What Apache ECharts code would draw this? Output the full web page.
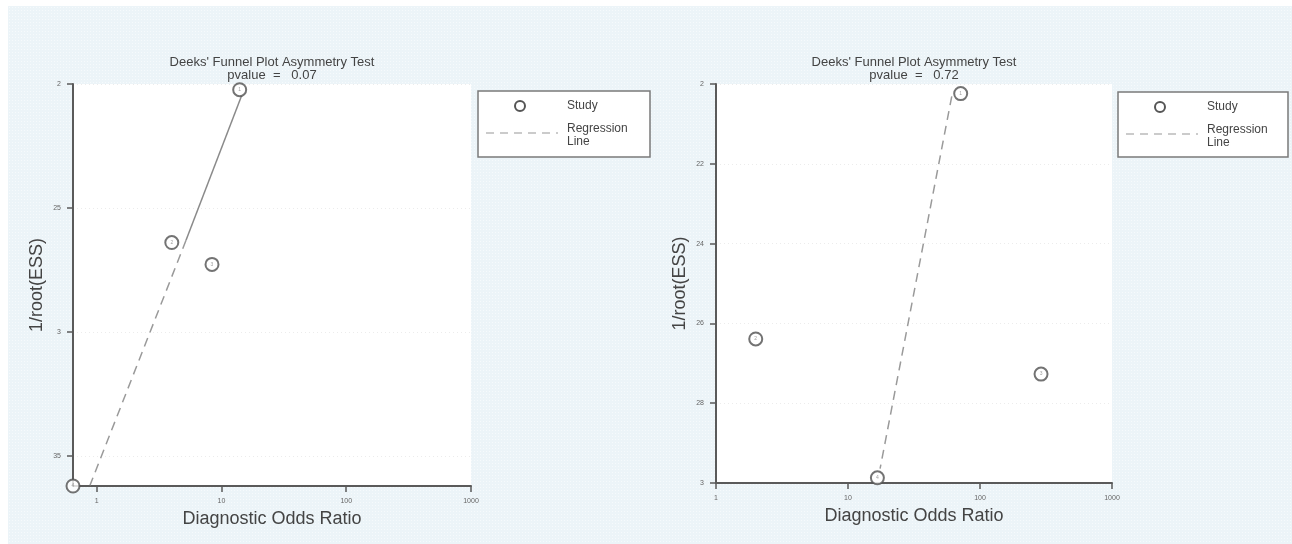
<!DOCTYPE html>
<html>
<head>
  <meta charset="UTF-8" />
  <title>Deeks' Funnel Plot Asymmetry Test</title>
  <script src="https://cdn.jsdelivr.net/npm/echarts@6/dist/echarts.min.js"></script>
  <style>
    html, body {
      margin: 0; height: 100%; background-color: #fff; font-family: "Liberation Sans", Arial, sans-serif;
    }
    #main {
      position: absolute;
      left: 0; top: 0;
      width: 1292px; height: 544px;
    }
    #bg {
      position: absolute;
      left: 8px; top: 6px;
      width: 1284px; height: 538px;
      background-color: #ecf4f8;
      background-image: radial-gradient(#f6fafc 0.8px, transparent 0.9px);
      background-size: 3px 3px;
    }
  </style>
</head>
<body>
  <div id="bg"></div>
  <div id="main"></div>

  <script>
    const chart = echarts.init(document.getElementById('main'));

    // 左图：研究点 (DOR, 1/root(ESS))
    const leftDor = [14.0, 4.0, 8.4, 0.646];
    const leftEss = [0.2023, 0.2639, 0.2727, 0.362];
    // 左图回归线（上段实线、下段虚线）
    const leftRegDor = [14.5, 5.2, 0.884];
    const leftRegEss = [0.2047, 0.2630, 0.3617];
    const leftYTicks = [0.2, 0.25, 0.3, 0.35];
    const leftYLabels = ['2', '25', '3', '35'];
    const leftPvalue = '0.07';

    // 右图
    const rightDor = [71.4, 2.0, 290, 16.7];
    const rightEss = [0.2024, 0.2639, 0.2727, 0.2987];
    const rightRegDor = [61.1, 17.5];
    const rightRegEss = [0.2031, 0.2964];
    const rightYTicks = [0.2, 0.22, 0.24, 0.26, 0.28, 0.3];
    const rightYLabels = ['2', '22', '24', '26', '28', '3'];
    const rightPvalue = '0.72';

    const xTicks = [1, 10, 100, 1000];

    const axisColor = '#5a5a5a';
    const textColor = '#444';

    function pts(xs, ys) {
      return xs.map((x, i) => [x, ys[i]]);
    }

    function xAxisOf(gridIndex, min) {
      return {
        gridIndex: gridIndex,
        type: 'log',
        logBase: 10,
        min: min,
        max: 1000,
        name: 'Diagnostic Odds Ratio',
        nameLocation: 'middle',
        nameGap: 22,
        nameTextStyle: { color: textColor, fontSize: 18, verticalAlign: 'top' },
        axisLine: { show: true, onZero: false, lineStyle: { color: axisColor, width: 2 } },
        axisTick: { show: true, length: 6, customValues: xTicks, lineStyle: { color: axisColor, width: 1.5 } },
        axisLabel: { customValues: xTicks, fontSize: 7, color: '#666', margin: 12, formatter: v => String(v) },
        splitLine: { show: false }
      };
    }

    function yAxisOf(gridIndex, max, ticks, labels) {
      return {
        gridIndex: gridIndex,
        type: 'value',
        inverse: true,
        min: 0.2,
        max: max,
        name: '1/root(ESS)',
        nameLocation: 'middle',
        nameGap: 27,
        nameTextStyle: { color: textColor, fontSize: 18 },
        axisLine: { show: true, onZero: false, lineStyle: { color: axisColor, width: 2 } },
        axisTick: { show: true, length: 6, customValues: ticks, lineStyle: { color: axisColor, width: 1.5 } },
        axisLabel: {
          customValues: ticks, fontSize: 7, color: '#666', margin: 12,
          formatter: v => {
            const i = ticks.findIndex(t => Math.abs(t - v) < 1e-6);
            return i >= 0 ? labels[i] : '';
          }
        },
        splitLine: { show: true, lineStyle: { color: '#ececec', type: [1, 3], width: 1 } }
      };
    }

    function studySeries(idx, xs, ys) {
      return {
        type: 'scatter',
        xAxisIndex: idx, yAxisIndex: idx,
        data: pts(xs, ys),
        symbol: 'circle',
        symbolSize: 13,
        clip: false,
        z: 10,
        itemStyle: { color: '#fff', borderColor: '#505050', borderWidth: 2 },
        label: {
          show: true, position: 'inside', fontSize: 5, color: '#888',
          formatter: p => String(p.dataIndex + 1)
        }
      };
    }

    function lineSeries(idx, data, type, color) {
      return {
        type: 'line',
        xAxisIndex: idx, yAxisIndex: idx,
        data: data,
        showSymbol: false,
        symbol: 'none',
        clip: false,
        z: 5,
        lineStyle: { color: color, width: 1.5, type: type }
      };
    }

    function legendAt(x, y, w, h) {
      return [
        { type: 'rect', shape: { x: x, y: y, width: w, height: h },
          style: { fill: '#fff', stroke: '#7a7a7a', lineWidth: 1.5 } },
        { type: 'circle', shape: { cx: x + 42, cy: y + 15, r: 5 },
          style: { fill: '#fff', stroke: '#555', lineWidth: 2 } },
        { type: 'line', shape: { x1: x + 8, y1: y + 42, x2: x + 80, y2: y + 42 },
          style: { stroke: '#bbb', lineWidth: 1.5, lineDash: [8, 6] } },
        { type: 'text', x: x + 89, y: y + 15,
          style: { text: 'Study', fontSize: 12, fill: textColor, verticalAlign: 'middle' } },
        { type: 'text', x: x + 89, y: y + 38,
          style: { text: 'Regression', fontSize: 12, fill: textColor, verticalAlign: 'middle' } },
        { type: 'text', x: x + 89, y: y + 51,
          style: { text: 'Line', fontSize: 12, fill: textColor, verticalAlign: 'middle' } }
      ];
    }

    function titleAt(x, pvalue) {
      return {
        text: "Deeks' Funnel Plot Asymmetry Test",
        subtext: 'pvalue  =   ' + pvalue,
        left: x,
        top: 56,
        textAlign: 'center',
        padding: 0,
        itemGap: 0,
        textStyle: { fontSize: 13, fontWeight: 'normal', color: textColor, lineHeight: 13 },
        subtextStyle: { fontSize: 13, color: textColor, lineHeight: 13 }
      };
    }

    chart.setOption({
      backgroundColor: 'transparent',
      textStyle: { fontFamily: '"Liberation Sans", Arial, sans-serif' },
      title: [titleAt(272, leftPvalue), titleAt(914, rightPvalue)],
      grid: [
        { left: 73, top: 84, width: 398, height: 402, show: true, backgroundColor: '#fff', borderWidth: 0 },
        { left: 716, top: 84, width: 396, height: 399, show: true, backgroundColor: '#fff', borderWidth: 0 }
      ],
      xAxis: [xAxisOf(0, 0.646), xAxisOf(1, 1)],
      yAxis: [
        yAxisOf(0, 0.362, leftYTicks, leftYLabels),
        yAxisOf(1, 0.3, rightYTicks, rightYLabels)
      ],
      series: [
        lineSeries(0, pts(leftRegDor, leftRegEss).slice(0, 2), 'solid', '#8a8a8a'),
        lineSeries(0, pts(leftRegDor, leftRegEss).slice(1), [9, 6], '#9a9a9a'),
        studySeries(0, leftDor, leftEss),
        lineSeries(1, pts(rightRegDor, rightRegEss), [9, 6], '#9a9a9a'),
        studySeries(1, rightDor, rightEss)
      ],
      graphic: legendAt(478, 91, 172, 66).concat(legendAt(1118, 92, 170, 65))
    });
  </script>
</body>
</html>
